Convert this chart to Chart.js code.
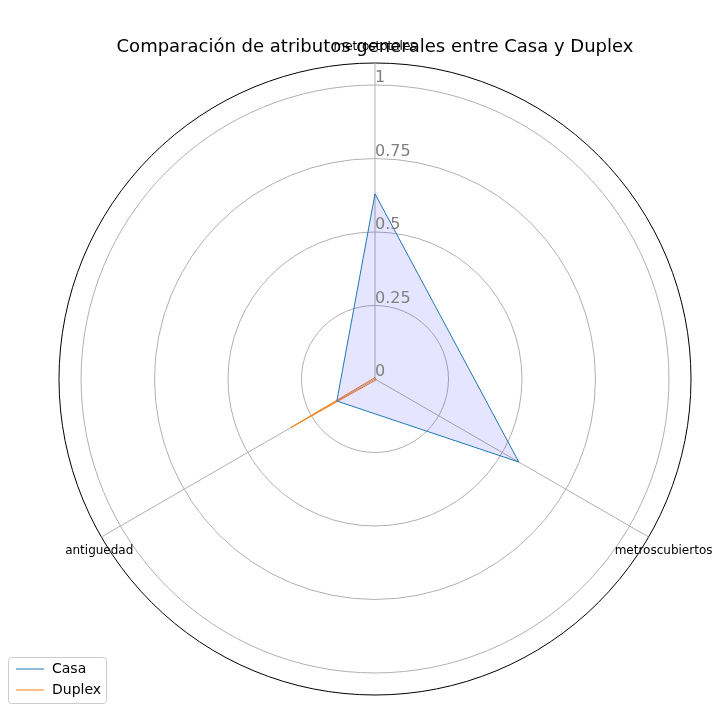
<!DOCTYPE html>
<html><head><meta charset="utf-8">
<script src="https://cdn.jsdelivr.net/npm/chart.js@4"></script>
<style>body{margin:0;background:#fff}#w{width:726px;height:723px}</style>
</head><body><div id="w"><canvas id="c"></canvas></div>
<script>
const categories = ['metrostotales','metroscubiertos','antiguedad'];
const casa = [0.63, 0.565, 0.15];
const duplex = [0.005, 0.005, 0.33];
const tickValues = [0, 0.25, 0.5, 0.75, 1];
const rMax = 1.075;
const extras = {
  id: 'extras',
  afterDraw(chart) {
    const s = chart.scales.r, ctx = chart.ctx;
    ctx.save();
    ctx.font = '12px DejaVu Sans'; ctx.fillStyle = '#000';
    const offs = [[0,-16],[0,14],[0,14]];
    categories.forEach((c, i) => {
      const p = s.getPointPosition(i, s.getDistanceFromCenterForValue(rMax));
      ctx.textAlign = i === 0 ? 'center' : (i === 1 ? 'left' : 'right');
      ctx.textBaseline = 'middle';
      const dx = i === 1 ? -34 : (i === 2 ? 32 : 0);
      ctx.fillText(c, p.x + dx + offs[i][0], p.y + offs[i][1]);
    });
    ctx.font = '16px DejaVu Sans'; ctx.fillStyle = '#808080'; ctx.textAlign = 'left'; ctx.textBaseline = 'middle';
    tickValues.forEach(v => {
      const p = s.getPointPosition(0, s.getDistanceFromCenterForValue(v));
      ctx.fillText(String(v), p.x, p.y - 7);
    });
    // legend
    const x0 = 8, y0 = 657;
    ctx.strokeStyle = '#ccc'; ctx.lineWidth = 1; ctx.fillStyle = 'rgba(255,255,255,0.8)';
    ctx.beginPath(); ctx.roundRect(x0 + 0.5, y0 + 0.5, 98, 46, 3); ctx.fill(); ctx.stroke();
    chart.data.datasets.forEach((d, i) => {
      const y = y0 + 12 + i * 21;
      ctx.strokeStyle = d.borderColor; ctx.beginPath(); ctx.moveTo(x0 + 8, y); ctx.lineTo(x0 + 36, y); ctx.stroke();
      ctx.fillStyle = '#000'; ctx.font = '14px DejaVu Sans'; ctx.textAlign = 'left';
      ctx.fillText(d.label, x0 + 44, y);
    });
    ctx.restore();
  }
};
new Chart(document.getElementById('c'), {
  type: 'radar',
  data: { labels: categories, datasets: [
    { label: 'Casa', data: casa, borderColor: '#1f77b4', backgroundColor: 'rgba(0,0,255,0.1)', borderWidth: 1, pointRadius: 0, fill: true },
    { label: 'Duplex', data: duplex, borderColor: '#ff7f0e', backgroundColor: 'rgba(255,127,14,0.1)', borderWidth: 1, pointRadius: 0, fill: true }
  ]},
  plugins: [extras],
  options: {
    responsive: true, maintainAspectRatio: false, animation: false,
    layout: { padding: { top: 31, left: 59, right: 35, bottom: 26 } },
    plugins: {
      title: { display: true, text: 'Comparación de atributos generales entre Casa y Duplex', color: '#000', font: { size: 18, family: 'DejaVu Sans', weight: 'normal' }, padding: { top: 6, bottom: 4 } },
      legend: { display: false },
      tooltip: { enabled: false }
    },
    scales: { r: {
      min: 0, max: rMax,
      afterBuildTicks: s => { s.ticks = tickValues.concat([rMax]).map(v => ({ value: v })); },
      grid: { circular: true, color: ctx => ctx.tick && ctx.tick.value === rMax ? '#000' : '#b0b0b0', lineWidth: 1 },
      angleLines: { color: '#b0b0b0' },
      ticks: { display: false },
      pointLabels: { display: false }
    } }
  }
});
</script></body></html>
